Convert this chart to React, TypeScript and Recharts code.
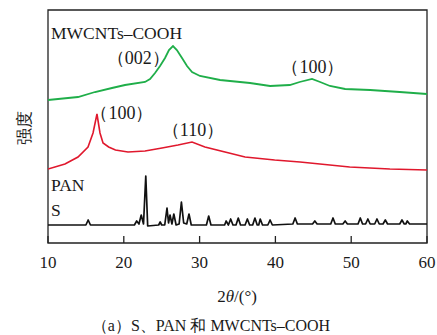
import React from "react";
import {
  LineChart,
  Line,
  XAxis,
  YAxis,
  ReferenceArea,
  ReferenceDot,
  Customized,
} from "recharts";

// 2θ positions and relative intensities
const mwcntTheta = [10, 13.96, 16.2, 18.44, 20.16, 22.8, 23.46, 24.12, 24.78, 25.44, 25.96, 26.49, 27.0, 27.68, 28.34, 29.0, 30.05, 32.7, 36.65, 39.3, 41.9, 43.2, 44.83, 45.9, 47.2, 49.2, 52.5, 56.4, 60];
const mwcntI = [143, 146, 151, 155, 158, 161, 164, 170, 177, 185, 193, 197, 193, 185, 177, 171, 167, 163, 160, 157, 158, 161, 164, 161, 157, 154, 153, 151, 149];

const panTheta = [10, 12.24, 13.96, 15.28, 15.94, 16.46, 16.86, 17.26, 18.0, 18.9, 20.55, 22.8, 25.04, 27.15, 29.0, 30.7, 33.35, 36.0, 39.9, 43.25, 49.8, 55.1, 60];
const panI = [74, 79, 86, 96, 110, 129, 110, 100, 96, 93, 91, 92, 95, 98, 101, 96, 91, 86, 83, 81, 76, 74, 73];

const sTheta = [10, 15.0, 15.3, 15.6, 21.4, 21.7, 22.0, 22.3, 22.6, 22.9, 23.15, 24.6, 24.8, 25.0, 25.4, 25.7, 25.9, 26.1, 26.35, 26.6, 26.9, 27.3, 27.6, 27.9, 28.3, 28.6, 28.9, 30.9, 31.2, 31.5, 33.3, 33.5, 33.8, 34.1, 34.4, 34.8, 35.1, 35.4, 36.0, 36.3, 36.6, 37.0, 37.3, 37.6, 37.8, 38.0, 38.3, 39.0, 39.3, 39.6, 42.3, 42.6, 42.9, 44.9, 45.2, 45.5, 47.3, 47.6, 47.9, 48.9, 49.2, 49.5, 50.9, 51.2, 51.5, 51.9, 52.2, 52.5, 53.1, 53.4, 53.7, 54.2, 54.5, 54.8, 56.4, 56.7, 57.0, 57.2, 57.4, 57.7, 60];
const sI = [18, 18, 23, 18, 18, 22, 19, 28, 19, 67, 17, 18, 21, 18, 18, 35, 20, 28, 19, 29, 18, 19, 41, 20, 19, 29, 18, 18, 27, 18, 18, 22, 18, 24, 18, 18, 25, 18, 18, 24, 18, 18, 25, 18, 18, 24, 18, 18, 23, 18, 19, 25, 19, 19, 22, 19, 19, 25, 19, 19, 22, 19, 19, 25, 19, 19, 24, 19, 19, 24, 19, 19, 23, 19, 19, 23, 19, 19, 22, 19, 19];

const xTicks = [10, 20, 30, 40, 50, 60];

const toRows = (xs: number[], ys: number[]) => xs.map((x, i) => ({ x, y: ys[i] }));
const mwcntData = toRows(mwcntTheta, mwcntI);
const panData = toRows(panTheta, panI);
const sData = toRows(sTheta, sI);

const SERIF = "'Liberation Serif', serif";
const TXT = "#1a1a1a";

const labelStyle = { fontSize: 18, fill: TXT, fontFamily: SERIF };

const InTick = (props: any) => {
  const { x, y, payload } = props;
  return (
    <g>
      <line x1={x} y1={y} x2={x} y2={y - 7} stroke="#222" strokeWidth={1.3} />
      <text x={x} y={y + 19} textAnchor="middle" dominantBaseline="central" fontSize={17} fill={TXT} fontFamily={SERIF}>
        {payload.value}
      </text>
    </g>
  );
};

const Texts = () => (
  <g fill={TXT} fontFamily={SERIF}>
    <text x={24} y={128} fontSize={17} textAnchor="middle" dominantBaseline="central" transform="rotate(-90 24 128)">
      强度
    </text>
    <text x={237} y={296} fontSize={17} textAnchor="middle" dominantBaseline="central">
      2<tspan fontStyle="italic">θ</tspan>/(°)
    </text>
    <text x={211} y={325} fontSize={16} textAnchor="middle" dominantBaseline="central">
      （a）S、PAN 和 MWCNTs–COOH
    </text>
  </g>
);

export default function App() {
  return (
    <div style={{ position: "absolute", left: 0, top: 0, background: "#fff", fontFamily: SERIF }}>
      <LineChart width={437} height={335} margin={{ top: 10, right: 10, bottom: 62, left: 48 }}>
        <XAxis
          type="number"
          dataKey="x"
          domain={[10, 60]}
          ticks={xTicks}
          interval={0}
          allowDataOverflow
          height={30}
          axisLine={false}
          tickSize={0}
          tickMargin={0}
          tickLine={false}
          tick={<InTick />}
        />
        <YAxis type="number" domain={[0, 233]} hide allowDataOverflow />
        <ReferenceArea x1={10} x2={60} y1={0} y2={233} fill="none" stroke="#222" strokeWidth={1.3} ifOverflow="visible" />
        <Line data={mwcntData} dataKey="y" stroke="#1fae49" strokeWidth={1.8} dot={false} isAnimationActive={false} />
        <Line data={panData} dataKey="y" stroke="#e0182d" strokeWidth={1.6} dot={false} isAnimationActive={false} />
        <Line data={sData} dataKey="y" stroke="#111" strokeWidth={1.7} dot={false} isAnimationActive={false} strokeLinejoin="round" />
        <ReferenceDot x={10.4} y={210} r={0} fill="none" stroke="none" ifOverflow="visible"
          label={{ value: "MWCNTs–COOH", position: "right", offset: 0, ...labelStyle, fontSize: 17.5 }} />
        <ReferenceDot x={21.9} y={185} r={0} fill="none" stroke="none" ifOverflow="visible"
          label={{ value: "（002）", position: "center", ...labelStyle }} />
        <ReferenceDot x={44.96} y={176} r={0} fill="none" stroke="none" ifOverflow="visible"
          label={{ value: "（100）", position: "center", ...labelStyle }} />
        <ReferenceDot x={19.76} y={130} r={0} fill="none" stroke="none" ifOverflow="visible"
          label={{ value: "（100）", position: "center", ...labelStyle }} />
        <ReferenceDot x={29.13} y={113} r={0} fill="none" stroke="none" ifOverflow="visible"
          label={{ value: "（110）", position: "center", ...labelStyle }} />
        <ReferenceDot x={10.4} y={58} r={0} fill="none" stroke="none" ifOverflow="visible"
          label={{ value: "PAN", position: "right", offset: 0, ...labelStyle, fontSize: 17.5 }} />
        <ReferenceDot x={10.4} y={33} r={0} fill="none" stroke="none" ifOverflow="visible"
          label={{ value: "S", position: "right", offset: 0, ...labelStyle, fontSize: 17.5 }} />
        <Customized component={Texts} />
      </LineChart>
    </div>
  );
}
